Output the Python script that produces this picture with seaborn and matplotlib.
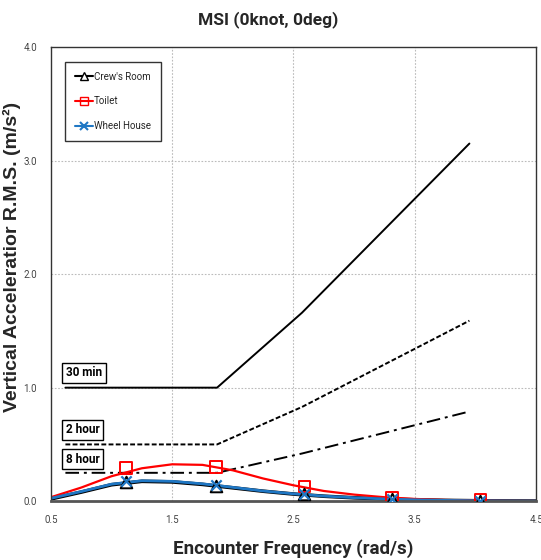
import numpy as np
import pandas as pd
import matplotlib
matplotlib.use("Agg")
import matplotlib.pyplot as plt
import seaborn as sns

# ---- data ----
curve_freq = [0.5, 0.75, 1.0, 1.25, 1.5, 1.75, 2.0, 2.25, 2.5, 2.75, 3.0, 3.25, 3.5, 3.75, 4.0, 4.25, 4.5]
crew_curve = [0.02, 0.08, 0.145, 0.175, 0.17, 0.148, 0.118, 0.088, 0.063, 0.044, 0.03, 0.02, 0.012, 0.007, 0.004, 0.002, 0.001]
toilet_curve = [0.035, 0.12, 0.22, 0.29, 0.325, 0.32, 0.272, 0.2, 0.14, 0.09, 0.058, 0.035, 0.02, 0.011, 0.006, 0.003, 0.002]
wheel_curve = [0.025, 0.085, 0.15, 0.18, 0.175, 0.153, 0.122, 0.09, 0.065, 0.045, 0.031, 0.02, 0.012, 0.007, 0.004, 0.002, 0.001]

marker_freq = [1.12, 1.86, 2.59, 3.31, 4.04]
crew_pts = [0.17, 0.13, 0.06, 0.02, 0.005]
toilet_pts = [0.29, 0.30, 0.13, 0.03, 0.01]
wheel_pts = [0.18, 0.14, 0.06, 0.02, 0.005]

limit_freq = [0.62, 1.87, 2.57, 3.95]
limit_30min = [1.0, 1.0, 1.66, 3.15]
limit_2hour = [0.5, 0.5, 0.83, 1.59]
limit_8hour = [0.25, 0.25, 0.42, 0.79]

series_names = ["Crew's Room", "Toilet", "Wheel House"]
limit_names = ["30 min", "2 hour", "8 hour"]
label_y = [1.13, 0.63, 0.37]

x_ticks = [0.5, 1.5, 2.5, 3.5, 4.5]
y_ticks = [0.0, 1.0, 2.0, 3.0, 4.0]

# ---- style ----
sns.set_style("white")
narrow = ["Liberation Sans Narrow", "Roboto", "DejaVu Sans"]
plt.rcParams["font.family"] = ["Liberation Sans", "DejaVu Sans"]

fig = plt.figure(figsize=(5.41, 5.6), dpi=100)
ax = fig.add_axes([0.094, 0.105, 0.897, 0.811])

colors = {"Crew's Room": "black", "Toilet": "#ff0000", "Wheel House": "#1f77c4"}
markers = {"Crew's Room": "^", "Toilet": "s", "Wheel House": "x"}

curves = pd.DataFrame({
    "freq": curve_freq * 3,
    "val": crew_curve + toilet_curve + wheel_curve,
    "series": [series_names[0]] * len(curve_freq) + [series_names[1]] * len(curve_freq) + [series_names[2]] * len(curve_freq),
})
pts = pd.DataFrame({
    "freq": marker_freq * 3,
    "val": crew_pts + toilet_pts + wheel_pts,
    "series": [series_names[0]] * len(marker_freq) + [series_names[1]] * len(marker_freq) + [series_names[2]] * len(marker_freq),
})

# limit lines
lim_styles = ["-", (0, (2.5, 1.2)), (0, (7, 2.5, 1.5, 2.5))]
for name, vals, ls in zip(limit_names, [limit_30min, limit_2hour, limit_8hour], lim_styles):
    sns.lineplot(x=limit_freq, y=vals, ax=ax, color="black", lw=1.4, linestyle=ls, legend=False)

# curves
widths = {"Crew's Room": 2.6, "Toilet": 1.6, "Wheel House": 2.0}
for name in series_names:
    d = curves[curves.series == name]
    sns.lineplot(data=d, x="freq", y="val", ax=ax, color=colors[name], lw=widths[name], legend=False)

for name in series_names:
    d = pts[pts.series == name]
    if markers[name] == "x":
        ax.scatter(d.freq, d.val, marker="x", color=colors[name], s=55, linewidths=1.6, zorder=5)
    else:
        ax.scatter(d.freq, d.val, marker=markers[name], facecolors="white" if name == "Crew's Room" else "none",
                   edgecolors=colors[name], s=70, linewidths=1.4, zorder=4)

# legend
from matplotlib.lines import Line2D
handles = []
for name in series_names:
    if name == "Crew's Room":
        h = Line2D([], [], color="black", lw=1.5, marker="^", markerfacecolor="white", markeredgecolor="black", markersize=6)
    elif name == "Toilet":
        h = Line2D([], [], color="#ff0000", lw=1.5, marker="s", markerfacecolor="none", markeredgecolor="#ff0000", markersize=6)
    else:
        h = Line2D([], [], color="#1f77c4", lw=1.5, marker="x", markersize=6, markeredgewidth=1.5)
    handles.append(h)
leg = ax.legend(handles, series_names, loc="upper left", bbox_to_anchor=(0.029, 0.967), borderaxespad=0.0,
                frameon=True, fancybox=False, edgecolor="black", handlelength=1.9, handletextpad=0.1,
                labelspacing=1.5, borderpad=1.0, prop={"family": narrow, "size": 7})
leg.get_frame().set_linewidth(1.0)
leg.get_frame().set_facecolor("white")

# limit labels
for name, yv in zip(limit_names, label_y):
    ax.text(0.625, yv, name, fontsize=8.5, family=narrow, fontweight="bold", color="black", ha="left", va="center",
            bbox=dict(boxstyle="square,pad=0.3", facecolor="white", edgecolor="black", linewidth=1.0))

# axes
ax.set_xlim(0.5, 4.5)
ax.set_ylim(0.0, 4.0)
ax.set_xticks(x_ticks)
ax.set_yticks(y_ticks)
ax.set_xticklabels([f"{v:.1f}" for v in x_ticks], family=narrow, fontsize=7, color="#444444")
ax.set_yticklabels([f"{v:.1f}" for v in y_ticks], family=narrow, fontsize=7, color="#444444")
ax.set_xticks([1.0, 2.0, 3.0, 4.0], minor=True)
ax.set_yticks([0.5, 1.5, 2.5, 3.5], minor=True)
ax.tick_params(axis="both", which="both", direction="out", length=4, width=0.8, color="#555555", pad=6)
ax.tick_params(axis="x", which="major", length=0, pad=10)
ax.tick_params(axis="y", which="major", length=4)

ax.grid(False)
for v in [1.5, 2.5, 3.5]:
    ax.axvline(v, color="#bbbbbb", lw=0.8, ls=(0, (1.5, 1.5)), zorder=0)
for v in [1.0, 2.0, 3.0]:
    ax.axhline(v, color="#bbbbbb", lw=0.8, ls=(0, (1.5, 1.5)), zorder=0)

for s in ["left", "right", "top"]:
    ax.spines[s].set_color("#333333")
    ax.spines[s].set_linewidth(1.0)
ax.spines["bottom"].set_color("#555555")
ax.spines["bottom"].set_linewidth(2.0)

ax.set_xlabel("Encounter Frequency (rad/s)", family=narrow, fontsize=13.5, fontweight="bold", labelpad=10)
ax.set_ylabel("Vertical Acceleratior R.M.S. (m/s²)", family=["Liberation Sans", "DejaVu Sans"], fontsize=14,
              fontweight="bold")
ax.yaxis.set_label_coords(-0.062, 0.537)
fig.text(0.495, 0.965, "MSI (0knot, 0deg)", family=narrow, fontsize=12.5, fontweight="bold", ha="center", va="center")

fig.savefig("out.png", dpi=100)
